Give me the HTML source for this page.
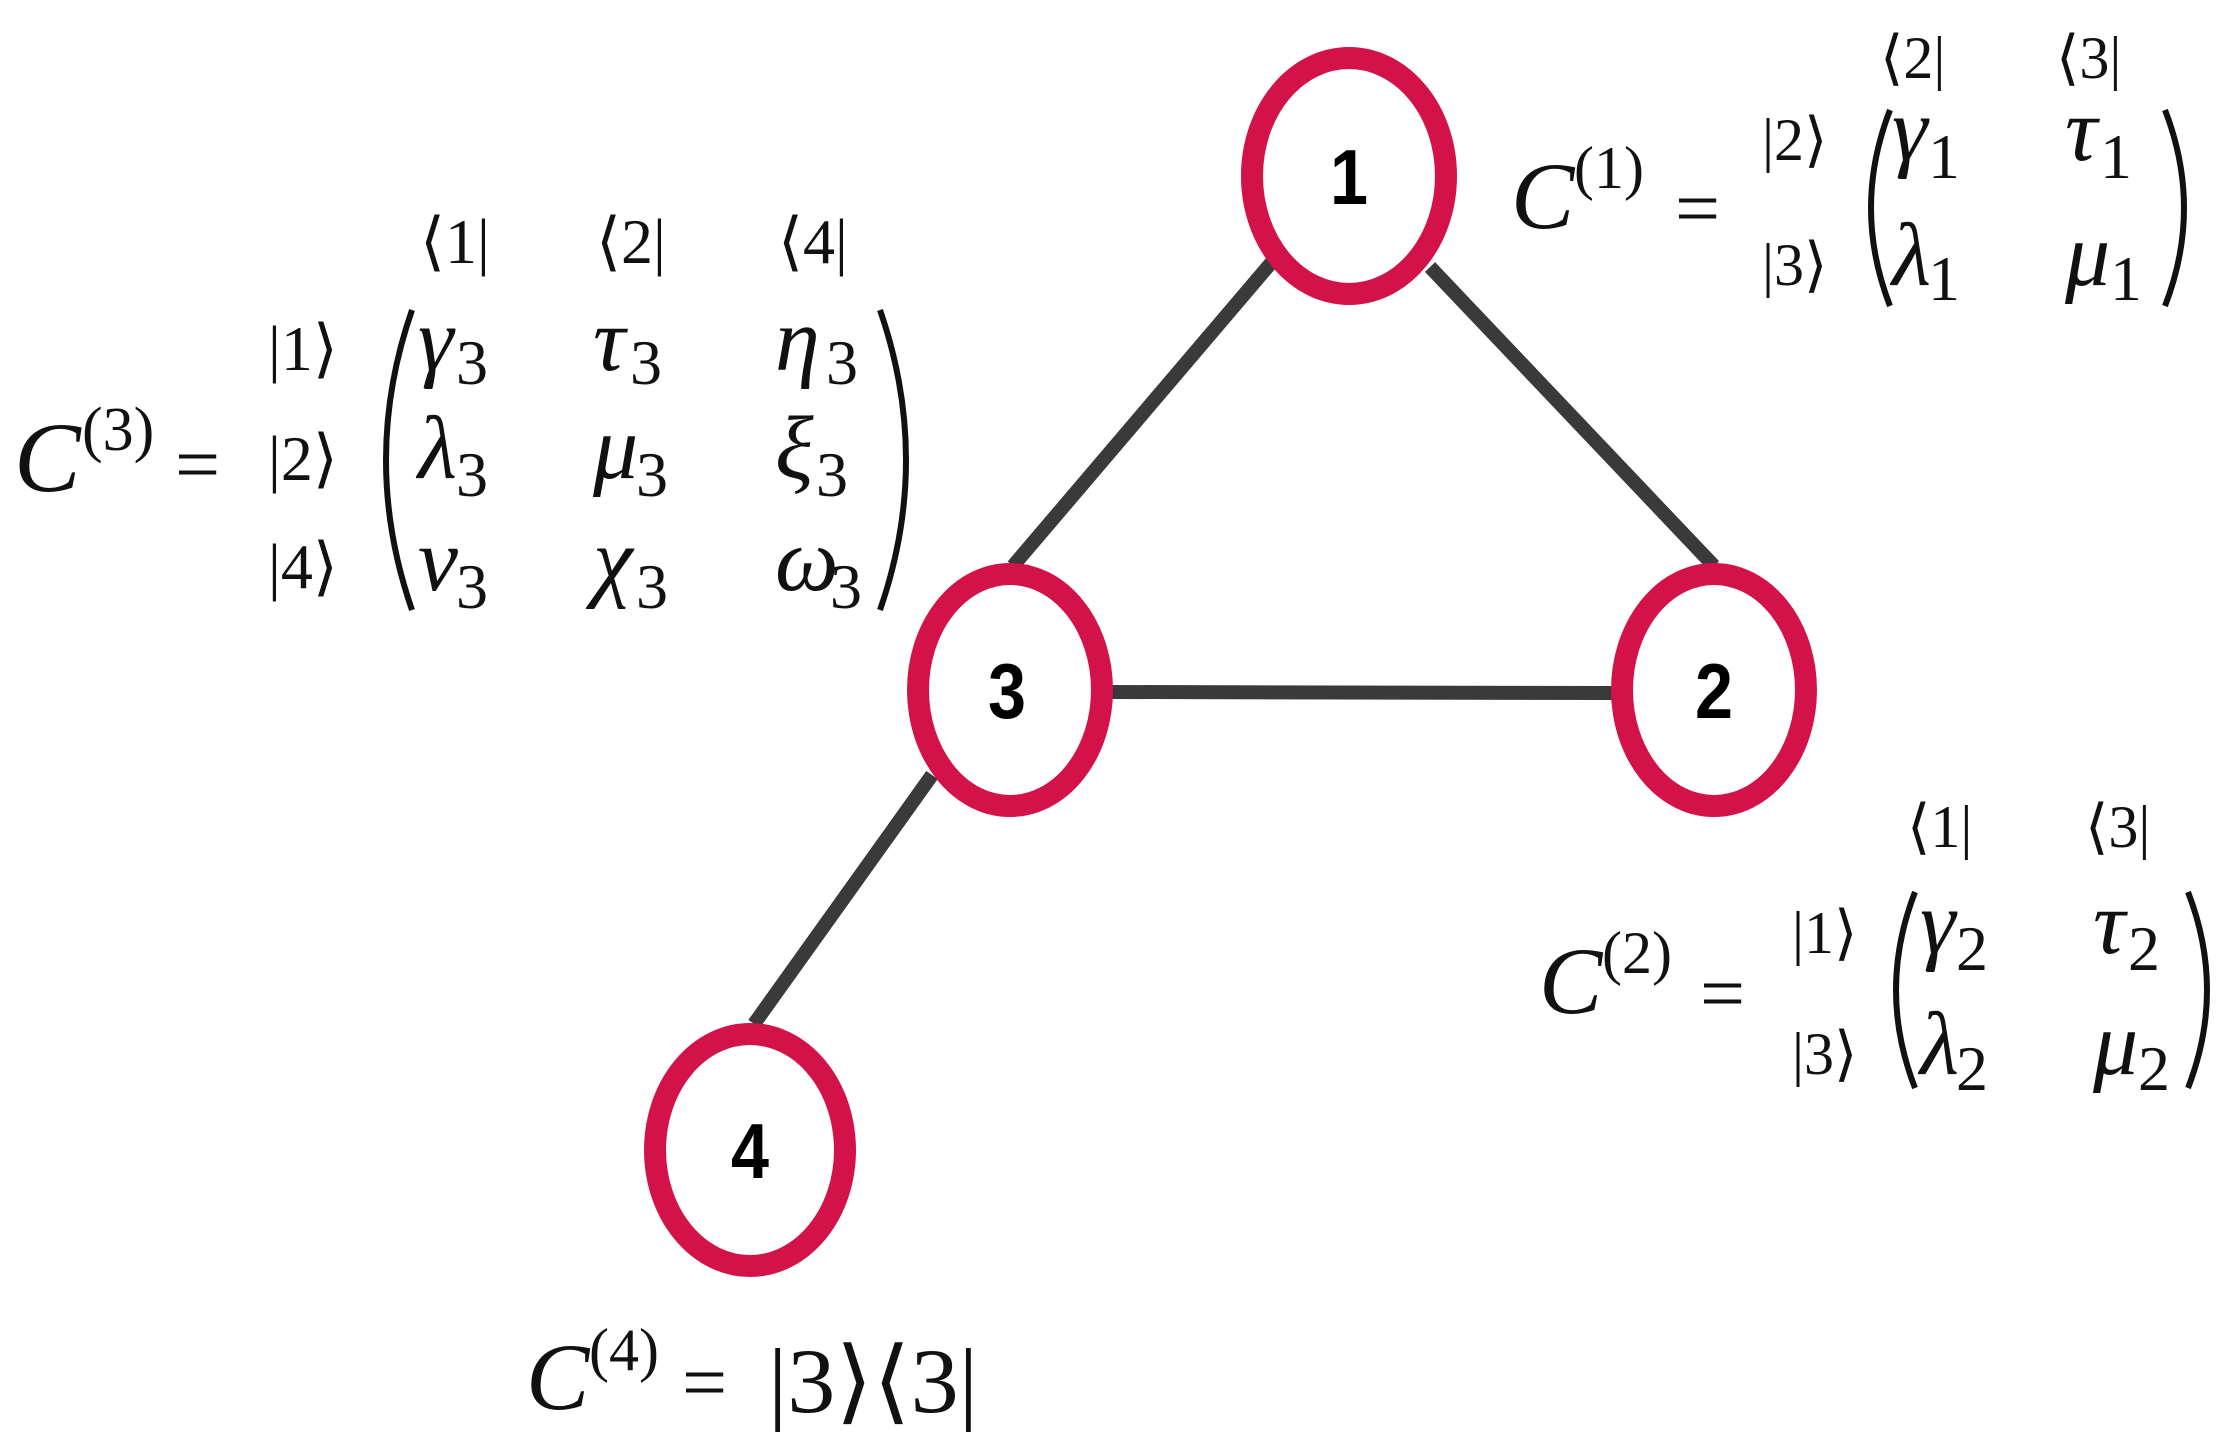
<!DOCTYPE html>
<html><head><meta charset="utf-8"><style>
html,body{margin:0;padding:0;background:#fff;}
svg{display:block;}
.t{font-family:"Liberation Serif",serif;fill:#111;}
.i{font-style:italic;}
.n{font-family:"Liberation Sans",sans-serif;font-weight:bold;fill:#000;}
</style></head><body>
<svg width="2231" height="1448" viewBox="0 0 2231 1448" xmlns="http://www.w3.org/2000/svg">
<g stroke="#3a3a3a" stroke-width="14" stroke-linecap="butt">
<line x1="1271" y1="263" x2="1013" y2="566"/>
<line x1="1430" y1="267" x2="1714" y2="566"/>
<line x1="1112" y1="692" x2="1612" y2="693"/>
<line x1="932" y1="775" x2="754" y2="1024"/>
</g>
<g fill="#fff" stroke="#d4124a" stroke-width="22">
<ellipse cx="1349" cy="176" rx="97" ry="118"/>
<ellipse cx="1010" cy="690" rx="92" ry="116"/>
<ellipse cx="1714" cy="690" rx="92" ry="116"/>
<ellipse cx="750" cy="1150" rx="95" ry="116"/>
</g>
<g class="n" font-size="78" text-anchor="middle">
<text x="1349" y="204" textLength="38" lengthAdjust="spacingAndGlyphs">1</text>
<text x="1007" y="718" textLength="38" lengthAdjust="spacingAndGlyphs">3</text>
<text x="1714" y="718" textLength="38" lengthAdjust="spacingAndGlyphs">2</text>
<text x="750" y="1178" textLength="38" lengthAdjust="spacingAndGlyphs">4</text>
</g>
<!-- C3 -->
<g class="t">
<text x="14" y="491" font-size="100" class="i">C</text>
<text x="82" y="450" font-size="62">(3)</text>
<text x="175" y="491" font-size="80">=</text>
<g font-size="64">
<text x="420" y="263">⟨1|</text><text x="596" y="263">⟨2|</text><text x="778" y="263">⟨4|</text>
<text x="268" y="370">|1⟩</text><text x="268" y="480">|2⟩</text><text x="268" y="588">|4⟩</text>
</g>
<g font-size="90" class="i">
<text x="418" y="370">γ</text><text x="593" y="370">τ</text><text x="775" y="370">η</text>
<text x="418" y="478">λ</text><text x="593" y="478">μ</text><text x="775" y="478">ξ</text>
<text x="418" y="590">ν</text><text x="593" y="590">χ</text><text x="775" y="590">ω</text>
</g>
<g font-size="64">
<text x="456" y="384">3</text><text x="630" y="384">3</text><text x="826" y="384">3</text>
<text x="456" y="496">3</text><text x="636" y="496">3</text><text x="816" y="496">3</text>
<text x="456" y="608">3</text><text x="636" y="608">3</text><text x="830" y="608">3</text>
</g>
</g>
<g fill="none" stroke="#111" stroke-width="6">
<path d="M412 310 Q360 460 412 610"/>
<path d="M880 310 Q932 460 880 610"/>
</g>
<!-- C1 -->
<g class="t">
<text x="1511" y="228" font-size="95" class="i">C</text>
<text x="1574" y="188" font-size="60">(1)</text>
<text x="1675" y="235" font-size="80">=</text>
<g font-size="60">
<text x="1880" y="78">⟨2|</text><text x="2056" y="78">⟨3|</text>
<text x="1762" y="160">|2⟩</text><text x="1762" y="285">|3⟩</text>
</g>
<g font-size="90" class="i">
<text x="1892" y="160">γ</text><text x="2065" y="160">τ</text>
<text x="1892" y="285">λ</text><text x="2065" y="285">μ</text>
</g>
<g font-size="64">
<text x="1928" y="178">1</text><text x="2100" y="178">1</text>
<text x="1928" y="300">1</text><text x="2110" y="300">1</text>
</g>
</g>
<g fill="none" stroke="#111" stroke-width="6">
<path d="M1890 110 Q1852 208 1890 306"/>
<path d="M2165 110 Q2203 208 2165 306"/>
</g>
<!-- C2 -->
<g class="t">
<text x="1539" y="1013" font-size="95" class="i">C</text>
<text x="1602" y="973" font-size="60">(2)</text>
<text x="1700" y="1020" font-size="80">=</text>
<g font-size="60">
<text x="1907" y="847">⟨1|</text><text x="2085" y="847">⟨3|</text>
<text x="1792" y="953">|1⟩</text><text x="1792" y="1074">|3⟩</text>
</g>
<g font-size="90" class="i">
<text x="1920" y="953">γ</text><text x="2093" y="953">τ</text>
<text x="1920" y="1074">λ</text><text x="2093" y="1074">μ</text>
</g>
<g font-size="64">
<text x="1956" y="970">2</text><text x="2128" y="970">2</text>
<text x="1956" y="1090">2</text><text x="2138" y="1090">2</text>
</g>
</g>
<g fill="none" stroke="#111" stroke-width="6">
<path d="M1915 892 Q1877 990 1915 1088"/>
<path d="M2188 892 Q2226 990 2188 1088"/>
</g>
<!-- C4 -->
<g class="t">
<text x="526" y="1409" font-size="95" class="i">C</text>
<text x="589" y="1370" font-size="60">(4)</text>
<text x="682" y="1409" font-size="80">=</text>
<text x="768" y="1412" font-size="92" textLength="210" lengthAdjust="spacingAndGlyphs">|3⟩⟨3|</text>
</g>
</svg>
</body></html>
